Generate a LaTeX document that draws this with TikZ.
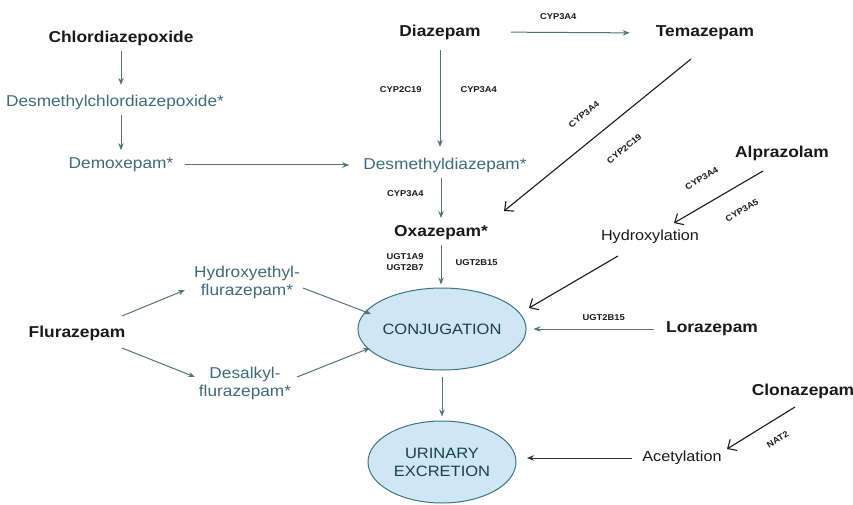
\documentclass[tikz,border=0pt]{standalone}
\usepackage{fontspec}
\setmainfont[FakeStretch=1.1]{Liberation Sans}
\usepackage{tikz}
\usetikzlibrary{positioning}
\usetikzlibrary{arrows.meta,shapes.geometric}

\definecolor{drugteal}{HTML}{3F6B78}
\definecolor{lineteal}{HTML}{52737F}
\definecolor{sinkfill}{HTML}{CFE6F3}
\definecolor{sinkedge}{HTML}{3D7382}
\definecolor{sinktext}{HTML}{1A404C}

\begin{document}
\begin{tikzpicture}[x=1pt,y=-1pt,
  drug/.style={font=\fontsize{15.8}{18}\selectfont\bfseries,text=black!90,inner sep=4pt},
  metab/.style={font=\fontsize{15.7}{18}\selectfont,text=drugteal,align=center,inner sep=4pt},
  route/.style={font=\fontsize{14.7}{18}\selectfont,text=black!90,inner sep=4pt},
  sink/.style={ellipse,draw=sinkedge,line width=1pt,fill=sinkfill,minimum width=148pt,
    minimum height=82pt,inner sep=0pt,font=\fontsize{15}{18}\selectfont,text=sinktext,align=center},
  enz/.style={font=\fontsize{8.5}{11}\selectfont\bfseries,text=black!90,inner sep=1pt,align=center},
  tealarr/.style={draw=lineteal,line width=1pt,-{Stealth[length=7pt,width=5.5pt]}},
  blkarr/.style={draw=black!90,line width=1.1pt,-{Straight Barb[length=7pt,width=13pt]}},
  grayarr/.style={draw=black!80,line width=1pt,-{Stealth[length=7pt,width=5.5pt]}}]

  \useasboundingbox (0,0) rectangle (853,505);

  % drugs and metabolites
  \node[drug]  (Chlor)    at (121,38)  {Chlordiazepoxide};
  \node[metab] (DesChlor) at (115,102) {Desmethylchlordiazepoxide*};
  \node[metab] (Demox)    at (121,165) {Demoxepam*};
  \node[drug]  (Diaz)     at (440,32)  {Diazepam};
  \node[drug]  (Tema)     at (705,33)  {Temazepam};
  \node[metab] (DesDiaz)  at (445,165) {Desmethyldiazepam*};
  \node[drug]  (Oxa)      at (441,233) {Oxazepam*};
  \node[drug]  (Alpra)    at (782,153) {Alprazolam};
  \node[route] (Hydrox)   at (650,237) {Hydroxylation};
  \node[drug]  (Lora)     at (712,329) {Lorazepam};
  \node[drug]  (Flura)    at (77,333)  {Flurazepam};
  \node[metab] (HydFlu)   at (247,282) {Hydroxyethyl-\\flurazepam*};
  \node[metab] (DesFlu)   at (245,383) {Desalkyl-\\flurazepam*};
  \node[drug]  (Clona)    at (803,391) {Clonazepam};
  \node[route] (Acet)     at (682,458) {Acetylation};

  % end points
  \node[sink] (Conj) at (442,329) {CONJUGATION};
  \node[sink] (Urin) at (442,462) {URINARY\\EXCRETION};

  \path
    (Chlor) edge[tealarr,shorten <=1pt,shorten >=5.6pt] (Chlor.south |- DesChlor.north)
    (Chlor.south |- DesChlor.south) edge[tealarr,shorten <=1.6pt,shorten >=3.6pt] (Chlor.south |- Demox.north)
    (Demox.east) edge[tealarr,shorten <=7pt,shorten >=10pt] (DesDiaz.west)
    (Diaz.south) edge[tealarr,shorten <=6.6pt,shorten >=6.6pt]
        node[enz,pos=0.42,left=17pt] {CYP2C19}
        node[enz,pos=0.42,right=19pt] {CYP3A4} (Diaz.south |- DesDiaz.north)
    (Oxa.north |- DesDiaz.south) edge[tealarr,shorten <=1.6pt,shorten >=3.6pt]
        node[enz,pos=0.38,left=16pt] {CYP3A4} (Oxa.north)
    (Oxa.south) edge[tealarr,shorten <=0.6pt,shorten >=3pt]
        node[enz,pos=0.4,left=16pt] {UGT1A9\\UGT2B7}
        node[enz,pos=0.42,right=13pt] {UGT2B15} (Oxa.south |- Conj.north)
    (Diaz.east) edge[tealarr,shorten <=26pt,shorten >=22pt]
        node[enz,pos=0.44,above=11pt] {CYP3A4} (Tema.west)
    (Lora.west) edge[tealarr,shorten <=8pt,shorten >=7pt]
        node[enz,pos=0.43,above=7pt] {UGT2B15} (Conj.east)
    (Conj.south) edge[tealarr,shorten <=6pt,shorten >=4pt] (Urin.north)
    (Acet.west) edge[grayarr,shorten <=6pt,shorten >=10.5pt] (Acet.west -| Urin.east);

  \path
    ([shift={(45,-17)}]Flura.center) edge[tealarr] ([shift={(-62,8)}]HydFlu.center)
    ([shift={(45,15)}]Flura.center)  edge[tealarr] ([shift={(-50,-6)}]DesFlu.center)
    ([shift={(56,6)}]HydFlu.center)  edge[tealarr] ([shift={(-71,-15)}]Conj.center)
    ([shift={(52,-6)}]DesFlu.center) edge[tealarr] ([shift={(-72,19)}]Conj.center);

  \path
    ([shift={(-14,26)}]Tema.center) edge[blkarr]
        node[enz,sloped,pos=0.49,above=20pt] {CYP3A4}
        node[enz,sloped,pos=0.45,below=23pt] {CYP2C19} ([shift={(63,-22)}]Oxa.center)
    ([shift={(-19,18)}]Alpra.center) edge[blkarr]
        node[enz,sloped,pos=0.55,above=20pt] {CYP3A4}
        node[enz,sloped,pos=0.37,below=19pt] {CYP3A5} ([shift={(24,-14)}]Hydrox.center)
    ([shift={(-32,19)}]Hydrox.center) edge[blkarr] ([shift={(87,-21)}]Conj.center)
    ([shift={(-8,16)}]Clona.center) edge[blkarr]
        node[enz,sloped,pos=0.4,below=14pt] {NAT2} ([shift={(45,-9)}]Acet.center);
\end{tikzpicture}
\end{document}
